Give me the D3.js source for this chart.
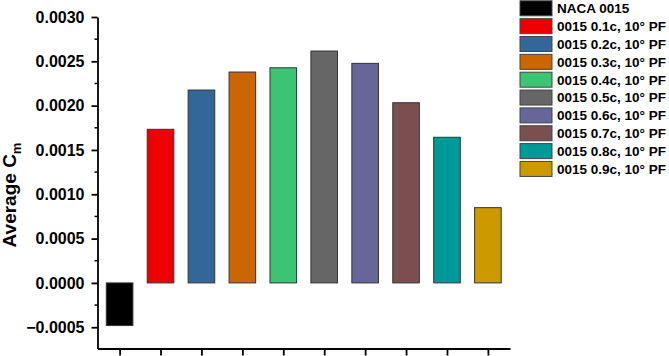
<!DOCTYPE html>
<html>
<head>
<meta charset="utf-8">
<script src="https://cdn.jsdelivr.net/npm/d3@7"></script>
<style>
  body { margin: 0; background: #fff; }
  svg { font-family: "Liberation Sans", Arial, sans-serif; font-weight: bold; }
</style>
</head>
<body>
<div class="chart"></div>
<script>
// average Cm per configuration

var labels = ["NACA 0015", "0015 0.1c, 10° PF", "0015 0.2c, 10° PF", "0015 0.3c, 10° PF",
              "0015 0.4c, 10° PF", "0015 0.5c, 10° PF", "0015 0.6c, 10° PF",
              "0015 0.7c, 10° PF", "0015 0.8c, 10° PF", "0015 0.9c, 10° PF"];
var values = [-0.000481, 0.001733, 0.002176, 0.002379, 0.002427,
              0.002616, 0.002477, 0.002033, 0.001643, 0.000849];
var colors = ["#000000", "#ee0000", "#336699", "#cc6600", "#3cc474",
              "#666666", "#666699", "#7b4f4f", "#009999", "#cc9900"];
var yTicks = [-0.0005, 0, 0.0005, 0.0010, 0.0015, 0.0020, 0.0025, 0.0030];

var width = 669, height = 356;

/* scales */
var x = d3.scaleLinear().domain([0.46, 10.54]).range([97.5, 510]);
var y = d3.scaleLinear().domain([-0.00074, 0.003]).range([348.5, 17]);
var barW = (x(1) - x(0)) * 0.65;

var svg = d3.select(".chart").append("svg")
    .attr("width", width)
    .attr("height", height);

/* bars */
svg.selectAll("rect.bar")
    .data(values)
    .enter().append("rect")
    .attr("class", "bar")
    .attr("x", function(d, i) { return x(i + 1) - barW / 2; })
    .attr("y", function(d) { return y(Math.max(0, d)); })
    .attr("width", barW)
    .attr("height", function(d) { return Math.abs(y(d) - y(0)); })
    .attr("fill", function(d, i) { return colors[i]; })
    .attr("stroke", "#333")
    .attr("stroke-width", 1);

// minor ticks y
var minor = d3.range(-0.00075, 0.0030001, 0.00025).filter(function(v) {
    return Math.abs(v / 0.0005 - Math.round(v / 0.0005)) > 0.01 && v >= -0.00074;
});
svg.selectAll("line.minor")
    .data(minor)
    .enter().append("line")
    .attr("x1", x.range()[0] - 3).attr("x2", x.range()[0])
    .attr("y1", function(d) { return y(d); })
    .attr("y2", function(d) { return y(d); })
    .attr("stroke", "#000").attr("stroke-width", 1.5);

// Y axis
var yAxis = svg.append("g")
    .attr("transform", "translate(" + x.range()[0] + ",0)")
    .call(d3.axisLeft(y).tickValues(yTicks).tickSize(6).tickPadding(7).tickSizeOuter(0)
        .tickFormat(function(d) { return d < 0 ? "\u2212" + d3.format(".4f")(-d) : d3.format(".4f")(d); }));
yAxis.selectAll("text").attr("font-size", 16).attr("font-weight", "bold")
    .attr("font-family", "Liberation Sans, Arial, sans-serif").attr("fill", "#000");
yAxis.selectAll("line, path").attr("stroke", "#000").attr("stroke-width", 1.8);

// X axis
var xAxis = svg.append("g")
    .attr("transform", "translate(0," + y.range()[0] + ")")
    .call(d3.axisBottom(x).tickValues(d3.range(1, 11)).tickSize(7).tickSizeOuter(0).tickFormat(""));
xAxis.selectAll("line, path").attr("stroke", "#000").attr("stroke-width", 1.8);

// Y label
var yl = svg.append("text")
    .attr("transform", "translate(16,195) rotate(-90)")
    .attr("text-anchor", "middle")
    .attr("font-size", 19)
    .attr("fill", "#000");
yl.append("tspan").text("Average C");
yl.append("tspan").attr("font-size", 13).attr("dy", 5).text("m");

/* legend */
var legend = svg.selectAll("g.legend")
    .data(labels)
    .enter().append("g")
    .attr("class", "legend")
    .attr("transform", function(d, i) { return "translate(520," + (8.3 + i * 17.85) + ")"; });
legend.append("rect")
    .attr("x", 0).attr("y", -7.5)
    .attr("width", 32).attr("height", 15)
    .attr("fill", function(d, i) { return colors[i]; })
    .attr("stroke", "#444").attr("stroke-width", 1);
legend.append("text")
    .attr("x", 37).attr("dy", "0.36em")
    .attr("font-size", 13.5)
    .attr("fill", "#000")
    .text(function(d) { return d; });
</script>
</body>
</html>
